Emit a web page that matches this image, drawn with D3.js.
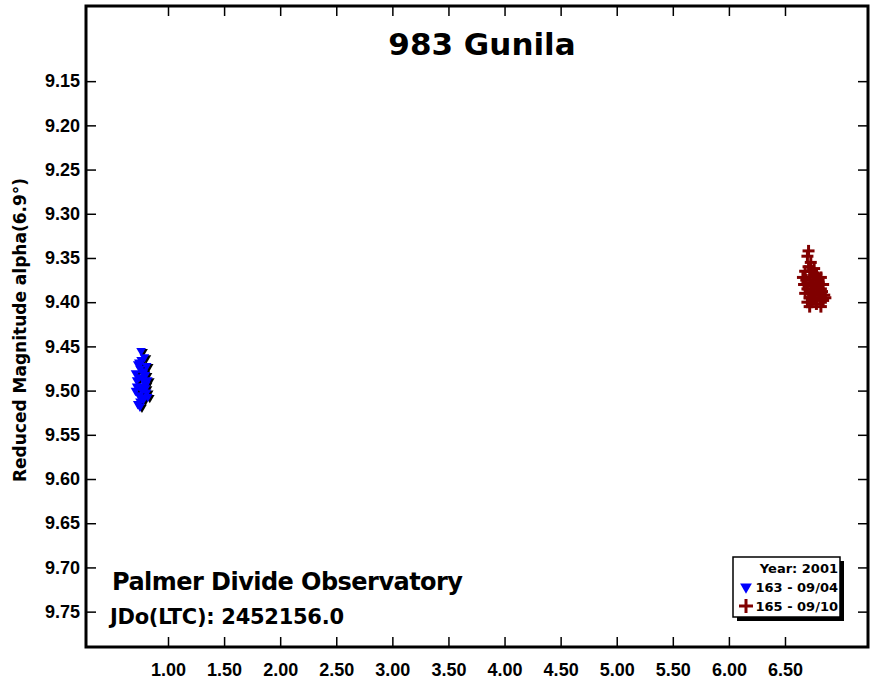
<!DOCTYPE html>
<html>
<head>
<meta charset="utf-8">
<script src="https://cdn.jsdelivr.net/npm/d3@7"></script>
<style>
body { margin: 0; background: #fff; }
text { font-family: Arial, "Liberation Sans", sans-serif; font-weight: bold; }
.wide { font-family: "DejaVu Sans", sans-serif; }
</style>
</head>
<body>
<div id="chart"></div>
<script>
const xTicks = [1.0, 1.5, 2.0, 2.5, 3.0, 3.5, 4.0, 4.5, 5.0, 5.5, 6.0, 6.5]
const yTicks = [9.15, 9.20, 9.25, 9.30, 9.35, 9.40, 9.45, 9.50, 9.55, 9.60, 9.65, 9.70, 9.75]

// session 163 - 09/04
const blueX = [0.71, 0.72, 0.73, 0.74, 0.74, 0.75, 0.75, 0.76, 0.76, 0.77, 0.77, 0.78, 0.78, 0.79, 0.79, 0.80, 0.80, 0.81, 0.81, 0.82, 0.71, 0.73, 0.75, 0.77, 0.79, 0.72, 0.74, 0.76, 0.78, 0.80, 0.82, 0.75]
const blueY = [9.480, 9.495, 9.470, 9.505, 9.485, 9.512, 9.475, 9.495, 9.465, 9.500, 9.485, 9.478, 9.510, 9.490, 9.462, 9.497, 9.482, 9.472, 9.502, 9.488, 9.500, 9.515, 9.518, 9.508, 9.495, 9.488, 9.468, 9.455, 9.480, 9.493, 9.507, 9.470]

// session 165 - 09/10
const redX = [6.66, 6.67, 6.68, 6.68, 6.69, 6.70, 6.70, 6.71, 6.72, 6.72, 6.73, 6.74, 6.74, 6.75, 6.76, 6.76, 6.77, 6.78, 6.78, 6.79, 6.80, 6.80, 6.81, 6.82, 6.82, 6.83, 6.84, 6.84, 6.85, 6.86, 6.70, 6.72, 6.74, 6.76, 6.78, 6.80, 6.82, 6.71, 6.73, 6.75]
const redY = [9.372, 9.380, 9.365, 9.390, 9.375, 9.348, 9.385, 9.360, 9.395, 9.372, 9.382, 9.365, 9.400, 9.378, 9.388, 9.370, 9.395, 9.380, 9.402, 9.372, 9.390, 9.378, 9.395, 9.385, 9.405, 9.388, 9.398, 9.380, 9.392, 9.395, 9.400, 9.405, 9.390, 9.362, 9.368, 9.385, 9.372, 9.342, 9.355, 9.392]

const width = 881, height = 680
const margin = {top: 6, right: 13, bottom: 33, left: 86}
const w = width - margin.left - margin.right
const h = height - margin.top - margin.bottom

const svg = d3.select('#chart').append('svg')
    .attr('width', width).attr('height', height)
const g = svg.append('g').attr('transform', 'translate(' + margin.left + ',' + margin.top + ')')

const x = d3.scaleLinear().domain([0.269, 7.24]).range([0, w])
const y = d3.scaleLinear().domain([9.065, 9.79]).range([0, h])

// axes, ticks pointing inward, mirrored
g.append('g').attr('transform', 'translate(0,' + h + ')')
    .call(d3.axisBottom(x).tickValues(xTicks).tickFormat(d3.format('.2f')).tickSizeInner(-10).tickSizeOuter(0).tickPadding(16))
g.append('g')
    .call(d3.axisTop(x).tickValues(xTicks).tickFormat('').tickSizeInner(-10).tickSizeOuter(0))
g.append('g')
    .call(d3.axisLeft(y).tickValues(yTicks).tickFormat(d3.format('.2f')).tickSizeInner(-10).tickSizeOuter(0).tickPadding(6))
g.append('g').attr('transform', 'translate(' + w + ',0)')
    .call(d3.axisRight(y).tickValues(yTicks).tickFormat('').tickSizeInner(-10).tickSizeOuter(0))
g.selectAll('.domain').remove()
g.selectAll('.tick line').attr('stroke', '#000').attr('stroke-width', 1.5)
g.selectAll('.tick text').attr('font-size', 18).attr('fill', '#000')

g.append('rect').attr('width', w).attr('height', h)
    .attr('fill', 'none').attr('stroke', '#000').attr('stroke-width', 3)

// blue points: triangles with black shadow
const tri = d3.symbol().type(d3.symbolTriangle).size(40)
const blue = blueX.map((v, i) => [v, blueY[i]])
g.selectAll('.bshadow').data(blue).join('path')
    .attr('d', tri)
    .attr('transform', d => 'translate(' + (x(d[0]) + 2) + ',' + (y(d[1]) + 1) + ') rotate(180)')
    .attr('fill', '#000')
g.selectAll('.bpt').data(blue).join('path')
    .attr('d', tri)
    .attr('transform', d => 'translate(' + x(d[0]) + ',' + y(d[1]) + ') rotate(180)')
    .attr('fill', '#0000ff')

// red points: plus signs
const red = redX.map((v, i) => [v, redY[i]])
const plus = g.append('g').attr('stroke', '#800000').attr('stroke-width', 3)
plus.selectAll('.h').data(red).join('line')
    .attr('x1', d => x(d[0]) - 6).attr('x2', d => x(d[0]) + 6)
    .attr('y1', d => y(d[1])).attr('y2', d => y(d[1]))
plus.selectAll('.v').data(red).join('line')
    .attr('x1', d => x(d[0])).attr('x2', d => x(d[0]))
    .attr('y1', d => y(d[1]) - 6).attr('y2', d => y(d[1]) + 6)

// title and labels
svg.append('text').attr('class', 'wide').attr('x', 482).attr('y', 55).attr('text-anchor', 'middle')
    .attr('font-size', 31).text('983 Gunila')
svg.append('text').attr('class', 'wide').attr('transform', 'translate(26,' + 330 + ') rotate(-90)')
    .attr('text-anchor', 'middle').attr('font-size', 17).text('Reduced Magnitude alpha(6.9°)')
svg.append('text').attr('class', 'wide').attr('x', 112).attr('y', 590).attr('font-size', 24)
    .attr('textLength', 351).text('Palmer Divide Observatory')
svg.append('text').attr('class', 'wide').attr('x', 110).attr('y', 624).attr('font-size', 21)
    .attr('textLength', 234).text('JDo(LTC): 2452156.0')

// legend
const lg = svg.append('g').attr('transform', 'translate(733,557)')
lg.append('rect').attr('x', 4).attr('y', 4).attr('width', 107).attr('height', 60).attr('fill', '#000')
lg.append('rect').attr('width', 107).attr('height', 60).attr('fill', '#fff').attr('stroke', '#000').attr('stroke-width', 1.5)
lg.append('text').attr('class', 'wide').attr('x', 105).attr('y', 16).attr('text-anchor', 'end').attr('font-size', 13).text('Year: 2001')
lg.append('path').attr('d', d3.symbol().type(d3.symbolTriangle).size(60))
    .attr('transform', 'translate(13,30) rotate(180)').attr('fill', '#0000ff')
lg.append('text').attr('class', 'wide').attr('x', 105).attr('y', 35).attr('text-anchor', 'end').attr('font-size', 13).text('163 - 09/04')
lg.append('line').attr('x1', 6).attr('x2', 20).attr('y1', 49).attr('y2', 49).attr('stroke', '#800000').attr('stroke-width', 3)
lg.append('line').attr('x1', 13).attr('x2', 13).attr('y1', 42).attr('y2', 56).attr('stroke', '#800000').attr('stroke-width', 3)
lg.append('text').attr('class', 'wide').attr('x', 105).attr('y', 54).attr('text-anchor', 'end').attr('font-size', 13).text('165 - 09/10')
</script>
</body>
</html>
